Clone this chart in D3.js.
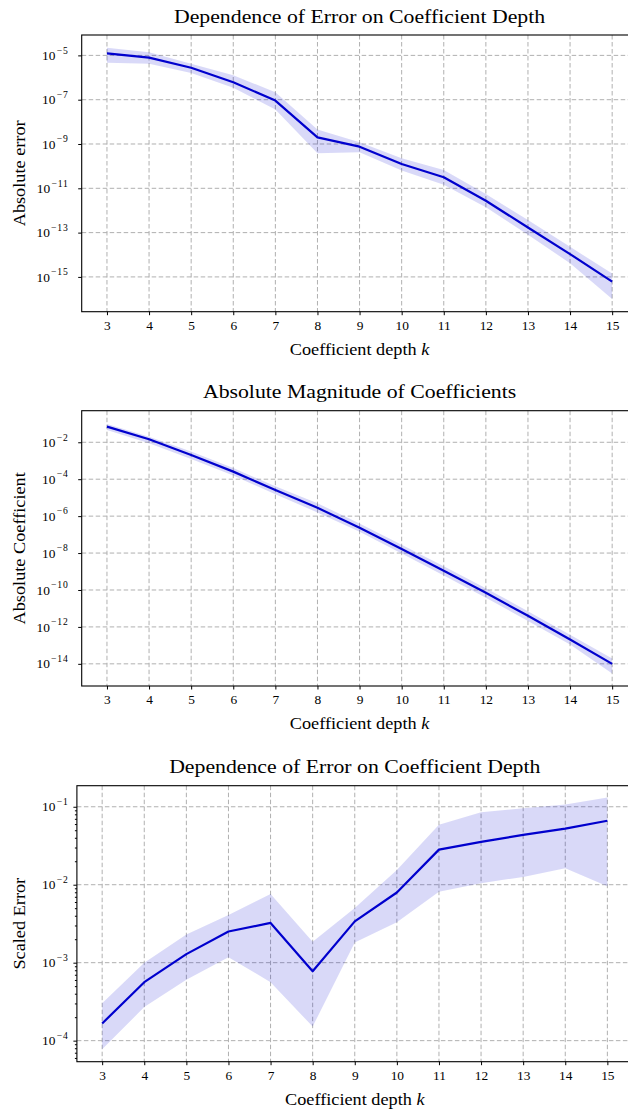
<!DOCTYPE html>
<html>
<head>
<meta charset="utf-8">
<script src="https://cdn.jsdelivr.net/npm/d3@7"></script>
<style>
	body { margin: 0; background: #fff; }
	svg { display: block; font-family: "Liberation Serif", "DejaVu Serif", serif; }
	.axis path, .axis line { stroke: #000; }
	.grid line { stroke: #b0b0b0; stroke-dasharray: 4.5,2.5; stroke-width: 1; }
</style>
</head>
<body>
<svg class="chart" width="628" height="1113"></svg>
<script>
const depths = [3, 4, 5, 6, 7, 8, 9, 10, 11, 12, 13, 14, 15];

// log10 values
const errMean = [-4.91, -5.10, -5.56, -6.21, -7.04, -8.70, -9.12, -9.90, -10.50, -11.56, -12.77, -13.97, -15.21];
const errUpper = [-4.65, -4.86, -5.38, -5.90, -6.66, -8.35, -8.92, -9.64, -10.17, -11.26, -12.43, -13.64, -14.85];
const errLower = [-5.33, -5.38, -5.80, -6.46, -7.44, -9.42, -9.37, -10.20, -10.84, -11.86, -13.10, -14.38, -16.00];

const coefMean = [-1.15, -1.84, -2.69, -3.59, -4.59, -5.55, -6.63, -7.78, -8.96, -10.15, -11.40, -12.68, -14.00];
const coefUpper = [-1.01, -1.70, -2.50, -3.40, -4.38, -5.30, -6.40, -7.55, -8.72, -9.90, -11.15, -12.42, -13.71];
const coefLower = [-1.33, -2.05, -2.90, -3.80, -4.82, -5.80, -6.85, -8.02, -9.22, -10.42, -11.68, -12.95, -14.52];

const scaledMean = [-3.78, -3.25, -2.89, -2.60, -2.49, -3.11, -2.47, -2.10, -1.55, -1.45, -1.36, -1.28, -1.18];
const scaledUpper = [-3.52, -3.00, -2.64, -2.39, -2.12, -2.73, -2.30, -1.81, -1.23, -1.07, -1.02, -0.97, -0.88];
const scaledLower = [-4.11, -3.57, -3.22, -2.93, -3.25, -3.82, -2.74, -2.48, -2.09, -1.98, -1.90, -1.79, -2.02];

const errTicks = [-15, -13, -11, -9, -7, -5];
const coefTicks = [-14, -12, -10, -8, -6, -4, -2];
const scaledTicks = [-4, -3, -2, -1];

const panels = [
	{title: 'Dependence of Error on Coefficient Depth', ylabel: 'Absolute error',
		mean: errMean, upper: errUpper, lower: errLower, ticks: errTicks,
		top: 35, bottom: 311.7, left: 81.7, ylim: [-16.57, -4.08], minor: false},
	{title: 'Absolute Magnitude of Coefficients', ylabel: 'Absolute Coefficient',
		mean: coefMean, upper: coefUpper, lower: coefLower, ticks: coefTicks,
		top: 410.7, bottom: 686, left: 81.7, ylim: [-15.2, -0.29], minor: false},
	{title: 'Dependence of Error on Coefficient Depth', ylabel: 'Scaled Error',
		mean: scaledMean, upper: scaledUpper, lower: scaledLower, ticks: scaledTicks,
		top: 785.7, bottom: 1061.7, left: 76.9, ylim: [-4.27, -0.73], minor: true}
];

// the reference face is a bit wider than Liberation Serif
const stretch = 1.1;
const svg = d3.select('.chart');

panels.forEach(p => {
	const width = 13.2 * 42.1;
	const height = p.bottom - p.top;
	const x = d3.scaleLinear().domain([2.4, 15.6]).range([0, width]);
	const y = d3.scaleLog().domain(p.ylim.map(v => Math.pow(10, v))).range([height, 0]);
	const g = svg.append('g').attr('transform', `translate(${p.left}, ${p.top})`);

	g.append('g').classed('grid', true)
		.selectAll('line')
		.data(depths)
		.enter()
			.append('line')
			.attr('x1', d => x(d)).attr('x2', d => x(d))
			.attr('y1', 0).attr('y2', height);
	g.append('g').classed('grid', true)
		.selectAll('line')
		.data(p.ticks)
		.enter()
			.append('line')
			.attr('x1', 0).attr('x2', width)
			.attr('y1', d => y(Math.pow(10, d))).attr('y2', d => y(Math.pow(10, d)));

	const rows = depths.map((k, i) => ({k, m: p.mean[i], lo: p.lower[i], hi: p.upper[i]}));
	const area = d3.area()
		.x(d => x(d.k))
		.y0(d => y(Math.pow(10, d.lo)))
		.y1(d => y(Math.pow(10, d.hi)));
	const line = d3.line()
		.x(d => x(d.k))
		.y(d => y(Math.pow(10, d.m)));

	g.append('path').datum(rows)
		.attr('d', area)
		.attr('fill', '#0000cd')
		.attr('fill-opacity', 0.15);
	g.append('path').datum(rows)
		.attr('d', line)
		.attr('fill', 'none')
		.attr('stroke', '#0000cd')
		.attr('stroke-width', 2.2)
		.attr('stroke-linejoin', 'round');

	g.append('rect')
		.attr('width', width).attr('height', height)
		.attr('fill', 'none').attr('stroke', '#000').attr('stroke-width', 1.1);

	g.append('g')
		.classed('axis', true)
		.attr('transform', `translate(0, ${height})`)
		.call(d3.axisBottom(x).tickValues(depths).tickSize(3.5).tickPadding(5).tickFormat(d3.format('d')))
		.call(a => a.select('.domain').remove())
		.selectAll('text')
		.attr('font-family', 'Liberation Serif')
		.attr('font-size', 13.4)
		.attr('fill', '#000');

	if (p.minor) {
		const minors = [];
		d3.range(-5, 0).forEach(e => d3.range(2, 10).forEach(m => {
			const lv = Math.log10(m * Math.pow(10, e));
			if (lv > p.ylim[0] && lv < p.ylim[1]) minors.push(Math.pow(10, lv));
		}));
		g.append('g').classed('axis', true)
			.call(d3.axisLeft(y).tickValues(minors).tickSize(2).tickFormat(''))
			.call(a => a.select('.domain').remove());
	}

	g.append('g')
		.classed('axis', true)
		.call(d3.axisLeft(y).tickValues(p.ticks.map(v => Math.pow(10, v))).tickSize(3.5).tickFormat(''))
		.call(a => a.select('.domain').remove());

	const yLabels = g.append('g')
		.selectAll('text')
		.data(p.ticks)
		.enter()
			.append('text')
			.attr('x', 68.5 - p.left)
			.attr('y', d => y(Math.pow(10, d)) + 4.6)
			.attr('text-anchor', 'end')
			.attr('font-size', 13.4);
	yLabels.append('tspan').text('10');
	yLabels.append('tspan')
		.attr('dx', 1.2)
		.attr('dy', -6.3)
		.attr('font-size', 9.6)
		.attr('letter-spacing', 0.8)
		.text(d => `\u2212${Math.abs(d)}`);

	g.append('g')
		.attr('transform', `translate(${width / 2}, -12.5) scale(${stretch}, 1)`)
		.append('text')
		.attr('text-anchor', 'middle').attr('font-size', 19.8)
		.text(p.title);

	const xl = g.append('g')
		.attr('transform', `translate(${width / 2}, ${height + 43.3}) scale(${stretch}, 1)`)
		.append('text')
		.attr('text-anchor', 'middle').attr('font-size', 16.6);
	xl.append('tspan').text('Coefficient depth ');
	xl.append('tspan').attr('font-style', 'italic').text('k');

	g.append('g')
		.attr('transform', `translate(${25 - p.left}, ${height / 2}) rotate(-90) scale(${stretch}, 1)`)
		.append('text')
		.attr('text-anchor', 'middle').attr('font-size', 16.6)
		.text(p.ylabel);
});
</script>
</body>
</html>
